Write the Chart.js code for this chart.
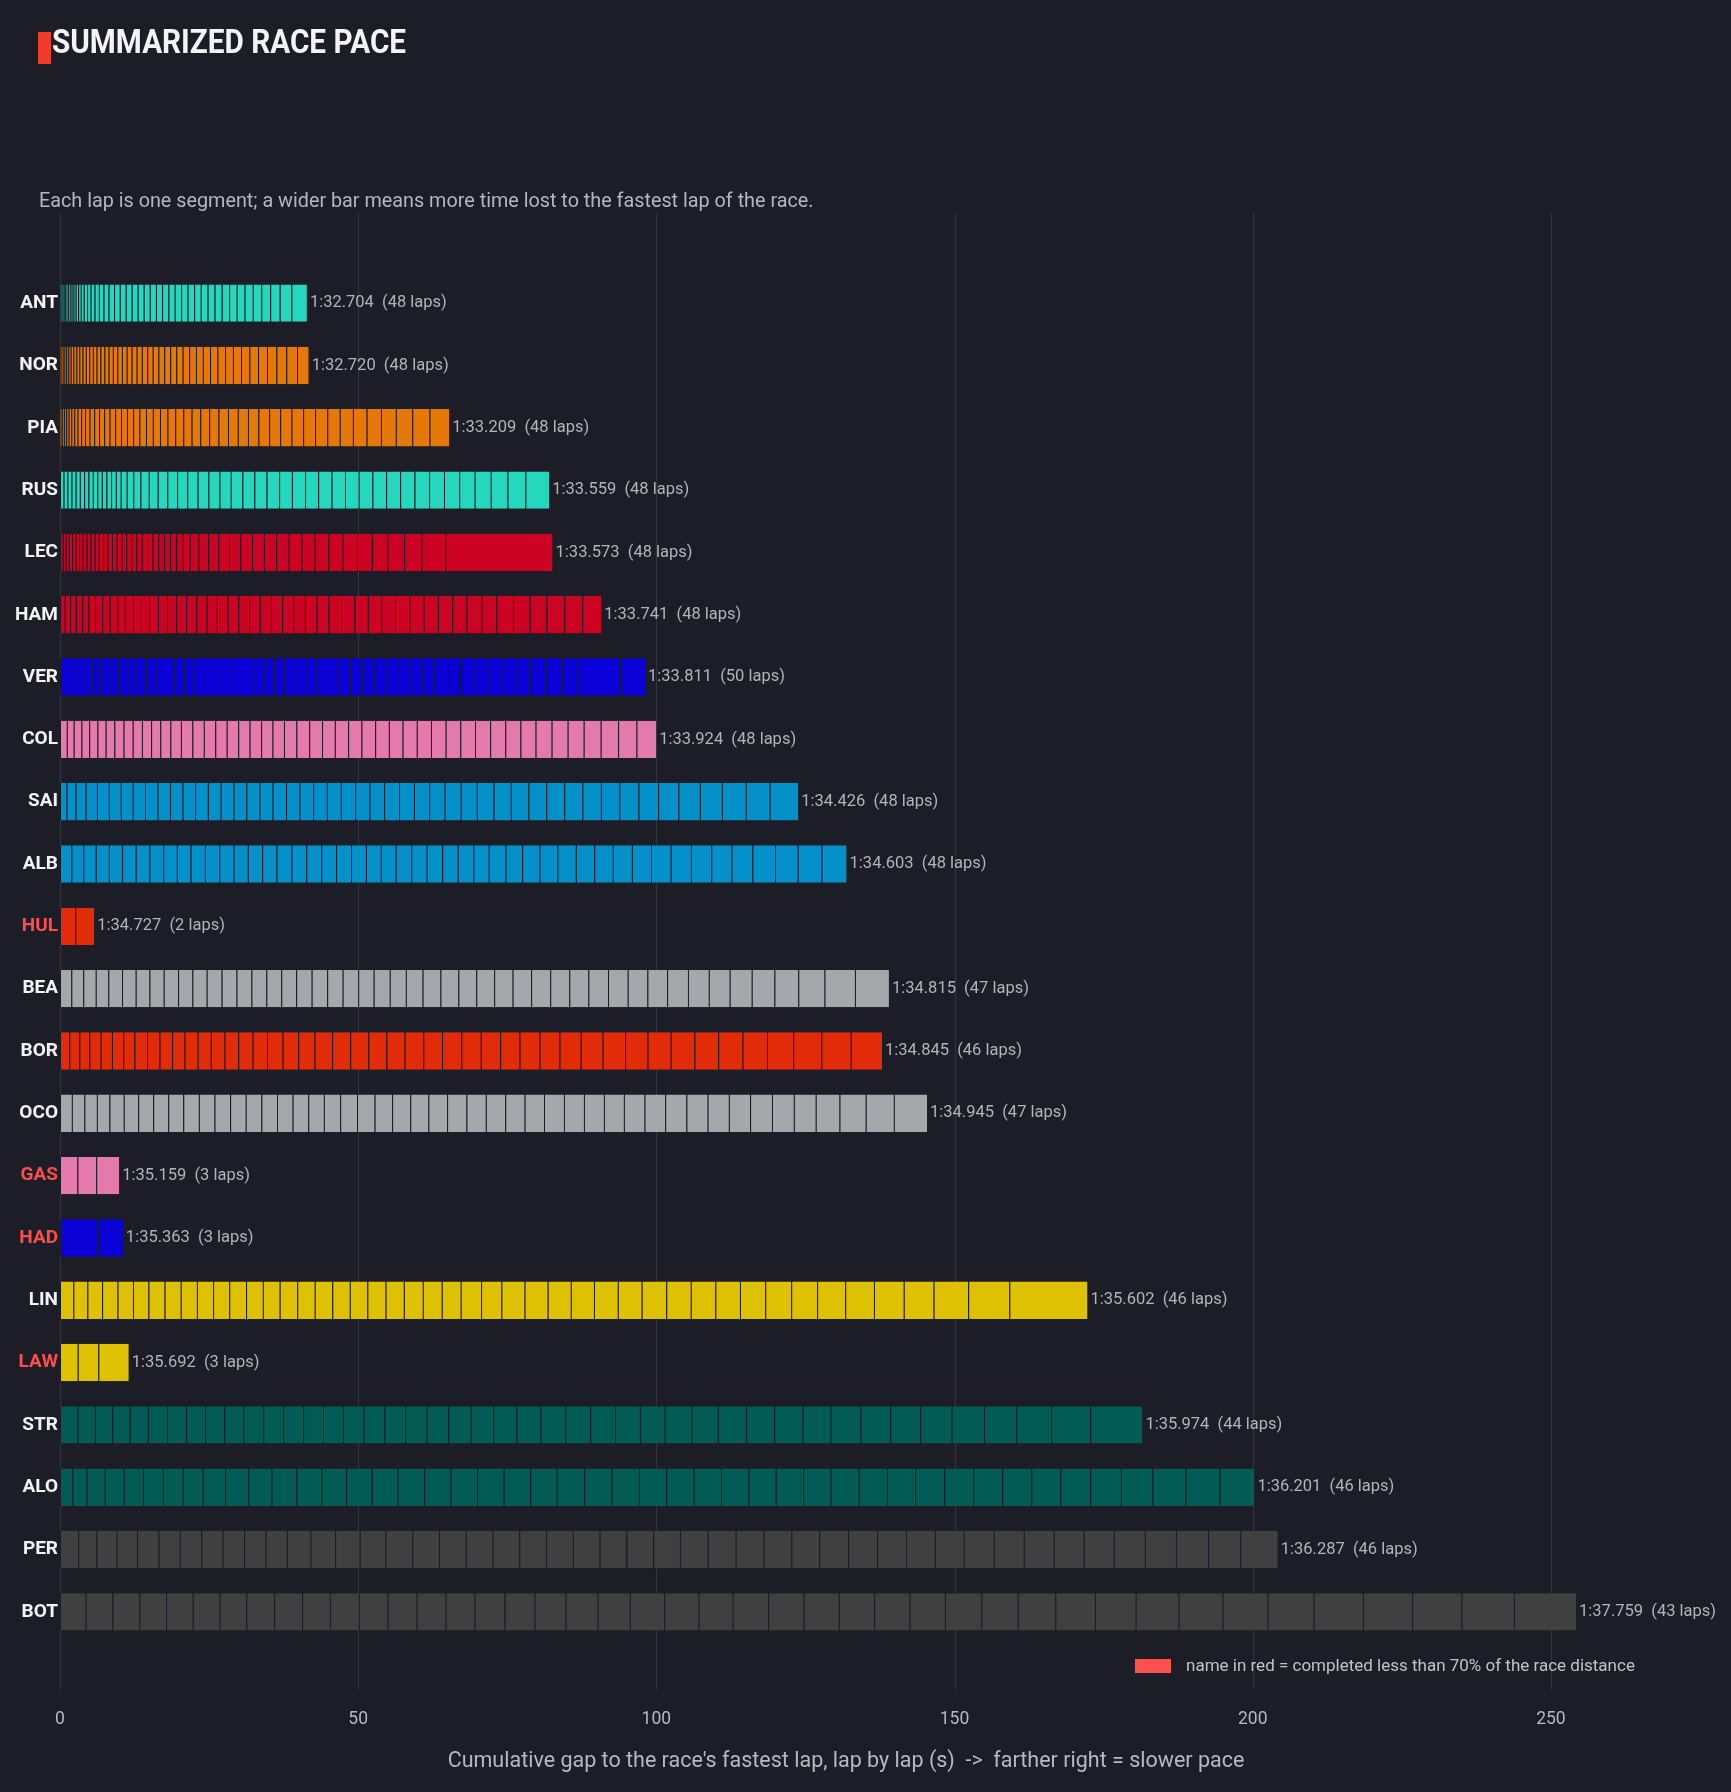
<!DOCTYPE html>
<html>
<head>
<meta charset="utf-8">
<script src="https://cdn.jsdelivr.net/npm/chart.js@4.4.0/dist/chart.umd.min.js"></script>
<style>
  html, body { margin: 0; padding: 0; background: #1d1d27; }
  #wrap { position: relative; width: 1731px; height: 1792px; overflow: hidden; }
  #chart { position: absolute; left: 0; top: 0; }
  .mark { position: absolute; left: 38px; top: 32px; width: 13px; height: 32px; background: #f23b2c; }
  #title { position: absolute; left: 52px; top: 22px; font-family: Roboto, sans-serif; font-weight: 700;
           font-size: 33px; color: #f4f4f6; transform: scaleX(0.9); transform-origin: left top; white-space: nowrap; }
  #subtitle { position: absolute; left: 39px; top: 189px; font-family: Roboto, sans-serif; font-size: 19.8px;
              color: #b6b6c0; white-space: nowrap; }
</style>
</head>
<body>
<div id="wrap">
  <canvas id="chart" width="1731" height="1792"></canvas>
  <div class="mark"></div>
  <div id="title">SUMMARIZED RACE PACE</div>
  <div id="subtitle">Each lap is one segment; a wider bar means more time lost to the fastest lap of the race.</div>
</div>
<script>
// drivers, top to bottom
const drivers = ['ANT', 'NOR', 'PIA', 'RUS', 'LEC', 'HAM', 'VER', 'COL', 'SAI', 'ALB', 'HUL',
                 'BEA', 'BOR', 'OCO', 'GAS', 'HAD', 'LIN', 'LAW', 'STR', 'ALO', 'PER', 'BOT'];
const avgLapTimes = ['1:32.704', '1:32.720', '1:33.209', '1:33.559', '1:33.573', '1:33.741', '1:33.811',
                     '1:33.924', '1:34.426', '1:34.603', '1:34.727', '1:34.815', '1:34.845', '1:34.945',
                     '1:35.159', '1:35.363', '1:35.602', '1:35.692', '1:35.974', '1:36.201', '1:36.287', '1:37.759'];
const shortDistance = ['HUL', 'GAS', 'HAD', 'LAW'];
const teamColors = ['#24d7bd', '#e67808', '#e67808', '#24d7bd', '#cc0322', '#cc0322', '#0a00d8', '#e47aac',
                    '#0490c8', '#0490c8', '#e22b08', '#a5a7ab', '#e22b08', '#a5a7ab', '#e47aac', '#0a00d8',
                    '#dfc104', '#dfc104', '#035b56', '#035b56', '#404040', '#404040'];
const xTicks = [0, 50, 100, 150, 200, 250];

// per-lap gap to the race's fastest lap (s), in the order drawn
const lapsANT = [0.1, 0.12, 0.14, 0.16, 0.18, 0.2, 0.22, 0.25, 0.28, 0.3, 0.33, 0.36, 0.4, 0.45, 0.5, 0.55,
  0.6, 0.66, 0.72, 0.78, 0.85, 0.92, 0.96, 1.0, 1.0, 1.0, 1.01, 1.02, 1.03, 1.04, 1.05, 1.06, 1.07, 1.08,
  1.1, 1.12, 1.14, 1.17, 1.2, 1.24, 1.28, 1.32, 1.37, 1.42, 1.5, 1.6, 1.95, 2.6];
const lapsNOR = [0.05, 0.1, 0.15, 0.2, 0.25, 0.3, 0.35, 0.4, 0.45, 0.5, 0.5, 0.53, 0.55, 0.58, 0.6, 0.62,
  0.65, 0.67, 0.7, 0.72, 0.75, 0.77, 0.8, 0.82, 0.85, 0.87, 0.9, 0.92, 0.95, 0.98, 1.0, 1.03, 1.06, 1.1,
  1.13, 1.16, 1.2, 1.24, 1.28, 1.32, 1.36, 1.4, 1.45, 1.5, 1.58, 1.66, 1.8, 1.95];
const lapsPIA = [0.15, 0.25, 0.3, 0.35, 0.4, 0.45, 0.5, 0.55, 0.6, 0.65, 0.75, 0.78, 0.82, 0.86, 0.9, 0.94,
  0.98, 1.0, 1.03, 1.06, 1.1, 1.15, 1.2, 1.25, 1.3, 1.35, 1.4, 1.45, 1.5, 1.55, 1.6, 1.65, 1.7, 1.75, 1.8,
  1.85, 1.9, 1.95, 2.0, 2.05, 2.1, 2.2, 2.3, 2.4, 2.5, 2.75, 2.9, 3.3];
const lapsRUS = [0.6, 0.65, 0.68, 0.7, 0.7, 0.72, 0.72, 0.74, 0.75, 0.76, 0.77, 0.78, 0.8, 0.82, 1.0, 1.1,
  1.2, 1.4, 1.5, 1.6, 1.65, 1.7, 1.75, 1.8, 1.85, 1.9, 1.95, 2.0, 2.05, 2.1, 2.15, 2.2, 2.2, 2.25, 2.25,
  2.3, 2.3, 2.3, 2.35, 2.4, 2.45, 2.5, 2.55, 2.6, 2.7, 2.8, 3.0, 4.0];
const lapsLEC = [0.45, 0.5, 0.52, 0.55, 0.58, 0.6, 0.62, 0.64, 0.66, 0.68, 0.7, 0.72, 0.74, 0.76, 0.78, 0.8,
  0.82, 0.84, 0.86, 0.88, 0.9, 0.92, 0.95, 0.98, 1.0, 1.05, 1.1, 1.15, 1.5, 1.6, 1.7, 1.8, 1.9, 1.95, 2.0,
  2.05, 2.1, 2.15, 2.2, 2.3, 2.4, 2.4, 2.5, 2.6, 2.8, 2.9, 4.0, 18.0];
const lapsHAM = [0.8, 0.9, 0.97, 1.05, 1.05, 1.1, 1.2, 1.27, 1.27, 1.27, 1.35, 1.35, 1.35, 1.5, 1.5, 1.57,
  1.65, 1.72, 1.72, 1.72, 1.8, 1.8, 1.8, 1.8, 1.87, 1.87, 1.87, 1.95, 1.95, 2.0, 2.1, 2.25, 2.25, 2.25, 2.3,
  2.4, 2.4, 2.4, 2.4, 2.4, 2.5, 2.5, 2.8, 2.8, 2.8, 3.0, 3.0, 3.2];
const lapsVER = [1.2, 1.35, 1.35, 1.43, 1.43, 1.5, 1.5, 1.55, 1.55, 1.57, 1.59, 1.59, 1.59, 1.6, 1.6, 1.6,
  1.65, 1.67, 1.67, 1.7, 1.73, 1.73, 1.73, 1.75, 1.75, 1.75, 1.75, 1.9, 1.95, 1.95, 1.97, 1.97, 1.97, 1.97,
  2.05, 2.05, 2.13, 2.13, 2.2, 2.2, 2.35, 2.35, 2.35, 2.51, 2.59, 2.75, 2.75, 3.08, 3.85, 4.2];
const lapsCOL = [1.15, 1.15, 1.3, 1.3, 1.38, 1.38, 1.46, 1.54, 1.54, 1.54, 1.54, 1.54, 1.69, 1.77, 1.92, 1.92,
  1.92, 1.92, 1.92, 1.92, 1.92, 1.92, 1.92, 2.08, 2.15, 2.15, 2.15, 2.23, 2.23, 2.3, 2.3, 2.3, 2.38, 2.38,
  2.46, 2.46, 2.46, 2.54, 2.54, 2.54, 2.54, 2.69, 2.69, 2.69, 2.85, 2.92, 3.08, 3.3];
const lapsSAI = [1.1, 1.5, 1.7, 1.9, 2.0, 2.0, 2.0, 2.05, 2.1, 2.1, 2.1, 2.1, 2.15, 2.15, 2.15, 2.15, 2.2,
  2.2, 2.25, 2.25, 2.3, 2.3, 2.35, 2.4, 2.4, 2.45, 2.5, 2.5, 2.55, 2.6, 2.7, 2.7, 2.8, 2.9, 2.95, 3.0, 3.0,
  3.05, 3.1, 3.1, 3.2, 3.3, 3.4, 3.6, 3.7, 4.0, 4.0, 4.8];
const lapsALB = [1.9, 2.0, 2.1, 2.2, 2.2, 2.3, 2.3, 2.3, 2.3, 2.3, 2.4, 2.4, 2.4, 2.4, 2.4, 2.4, 2.5, 2.5,
  2.5, 2.5, 2.5, 2.5, 2.5, 2.5, 2.6, 2.6, 2.6, 2.6, 2.6, 2.6, 2.8, 2.8, 2.9, 3.0, 3.1, 3.1, 3.1, 3.2, 3.2,
  3.3, 3.4, 3.4, 3.4, 3.5, 3.8, 3.8, 4.0, 4.2];
const lapsHUL = [2.55, 3.2];
const lapsBEA = [1.9, 2.0, 2.1, 2.1, 2.3, 2.3, 2.3, 2.4, 2.4, 2.4, 2.4, 2.5, 2.5, 2.5, 2.5, 2.5, 2.5, 2.6,
  2.6, 2.6, 2.6, 2.6, 2.7, 2.7, 2.8, 3.0, 3.0, 3.0, 3.0, 3.1, 3.1, 3.2, 3.2, 3.2, 3.3, 3.3, 3.3, 3.3, 3.5,
  3.5, 3.5, 3.7, 3.8, 4.0, 4.4, 5.1, 5.7];
const lapsBOR = [1.57, 1.68, 1.68, 1.89, 1.89, 1.89, 1.89, 2.1, 2.1, 2.1, 2.1, 2.2, 2.2, 2.3, 2.3, 2.41,
  2.41, 2.62, 2.62, 2.73, 2.94, 3.04, 3.04, 3.04, 3.04, 3.14, 3.14, 3.25, 3.25, 3.25, 3.25, 3.35, 3.35,
  3.56, 3.67, 3.77, 3.77, 3.88, 3.98, 3.98, 4.09, 4.09, 4.4, 4.72, 4.93, 5.24];
const lapsOCO = [1.99, 2.1, 2.1, 2.1, 2.41, 2.41, 2.52, 2.52, 2.52, 2.62, 2.62, 2.62, 2.62, 2.62, 2.62,
  2.62, 2.62, 2.62, 2.73, 2.83, 2.94, 2.94, 3.04, 3.04, 3.14, 3.25, 3.25, 3.25, 3.25, 3.25, 3.35, 3.35,
  3.35, 3.35, 3.46, 3.46, 3.56, 3.56, 3.56, 3.56, 3.67, 3.67, 3.67, 3.98, 4.4, 4.72, 5.56];
const lapsGAS = [2.92, 3.15, 3.86];
const lapsHAD = [3.18, 3.2, 4.16];
const lapsLIN = [2.24, 2.35, 2.47, 2.59, 2.59, 2.59, 2.71, 2.71, 2.71, 2.71, 2.71, 2.82, 2.82, 2.82, 2.94,
  2.94, 2.94, 2.94, 2.94, 3.06, 3.06, 3.18, 3.18, 3.18, 3.41, 3.41, 3.88, 3.88, 3.88, 3.88, 4.0, 4.0, 4.12,
  4.12, 4.12, 4.12, 4.24, 4.35, 4.35, 4.71, 4.82, 5.0, 5.0, 5.8, 6.9, 13.1];
const lapsLAW = [2.98, 3.45, 5.1];
const lapsSTR = [2.92, 2.92, 2.92, 2.92, 3.06, 3.2, 3.2, 3.2, 3.2, 3.2, 3.34, 3.34, 3.34, 3.34, 3.34, 3.48,
  3.48, 3.48, 3.62, 3.62, 3.76, 3.76, 3.89, 4.03, 4.17, 4.17, 4.17, 4.17, 4.17, 4.45, 4.45, 4.73, 4.73, 4.73,
  4.73, 5.0, 5.0, 5.0, 5.29, 5.42, 5.42, 5.84, 6.54, 8.76];
const lapsALO = [2.09, 2.36, 3.06, 3.2, 3.2, 3.34, 3.34, 3.34, 3.76, 3.89, 3.89, 4.17, 4.17, 4.17, 4.31,
  4.31, 4.45, 4.45, 4.45, 4.45, 4.45, 4.45, 4.59, 4.59, 4.59, 4.59, 4.59, 4.59, 4.59, 4.59, 4.59, 4.59,
  4.73, 4.73, 4.73, 4.87, 4.87, 4.87, 4.87, 4.87, 5.0, 5.15, 5.29, 5.56, 5.7, 5.84];
const lapsPER = [3.05, 3.05, 3.41, 3.41, 3.59, 3.59, 3.59, 3.59, 3.59, 3.59, 3.59, 3.95, 4.13, 4.13, 4.31,
  4.49, 4.49, 4.49, 4.49, 4.49, 4.49, 4.49, 4.49, 4.49, 4.49, 4.49, 4.67, 4.67, 4.67, 4.67, 4.67, 4.85,
  4.85, 4.85, 4.85, 4.85, 5.03, 5.03, 5.03, 5.03, 5.03, 5.21, 5.21, 5.39, 5.39, 6.29];
const lapsBOT = [4.31, 4.49, 4.49, 4.49, 4.49, 4.49, 4.49, 4.67, 4.67, 4.67, 4.85, 4.85, 4.85, 4.85, 4.85,
  5.03, 5.03, 5.21, 5.39, 5.39, 5.75, 5.75, 5.75, 5.93, 5.93, 5.93, 5.93, 5.93, 5.93, 6.11, 6.11, 6.29,
  6.65, 6.83, 7.19, 7.37, 7.55, 7.73, 8.26, 8.26, 8.26, 8.8, 10.42];

const lapGaps = [lapsANT, lapsNOR, lapsPIA, lapsRUS, lapsLEC, lapsHAM, lapsVER, lapsCOL, lapsSAI, lapsALB,
  lapsHUL, lapsBEA, lapsBOR, lapsOCO, lapsGAS, lapsHAD, lapsLIN, lapsLAW, lapsSTR, lapsALO, lapsPER, lapsBOT];

const FONT = 'Roboto, "Noto Sans", sans-serif';
const BG = '#1d1d27';
Chart.defaults.font.family = FONT;

const maxLaps = Math.max(...lapGaps.map(l => l.length));
const datasets = [];
for (let i = 0; i < maxLaps; i++) {
    datasets.push({
        label: 'Lap ' + (i + 1),
        data: lapGaps.map(l => (i < l.length ? l[i] : null)),
        backgroundColor: teamColors,
        borderColor: BG,
        borderWidth: { left: 1, right: 0, top: 0, bottom: 0 },
        borderSkipped: false,
        barPercentage: 0.6,
        categoryPercentage: 1.0
    });
}

// vertical grid lines reach past the bars, like the original
const gridPlugin = {
    id: 'fullGrid',
    beforeDatasetsDraw(chart) {
        const { ctx, scales: { x, y } } = chart;
        const top = y.getPixelForValue(-1.45);
        const bottom = y.getPixelForValue(22.25);
        ctx.save();
        ctx.strokeStyle = '#33333e';
        ctx.lineWidth = 1.2;
        xTicks.forEach(v => {
            const px = Math.round(x.getPixelForValue(v)) + 0.5;
            ctx.beginPath();
            ctx.moveTo(px, top);
            ctx.lineTo(px, bottom);
            ctx.stroke();
        });
        ctx.restore();
    }
};

// "1:32.704  (48 laps)" at the end of each bar, plus the note in the corner
const labelPlugin = {
    id: 'barEnds',
    afterDatasetsDraw(chart) {
        const { ctx, scales: { x, y } } = chart;
        ctx.save();
        ctx.font = '16.5px ' + FONT;
        ctx.fillStyle = '#b3b3bc';
        ctx.textBaseline = 'middle';
        ctx.textAlign = 'left';
        lapGaps.forEach((laps, i) => {
            const total = laps.reduce((a, b) => a + b, 0);
            const px = x.getPixelForValue(total) + 3;
            const py = y.getPixelForValue(i);
            ctx.fillText(avgLapTimes[i] + '  (' + laps.length + ' laps)', px, py);
        });

        ctx.fillStyle = '#ff5050';
        ctx.fillRect(1135, 1659, 36, 14);
        ctx.font = '17px ' + FONT;
        ctx.fillStyle = '#c2c2ca';
        ctx.fillText('name in red = completed less than 70% of the race distance', 1186, 1667);
        ctx.restore();
    }
};

new Chart(document.getElementById('chart'), {
    type: 'bar',
    data: { labels: drivers, datasets: datasets },
    options: {
        indexAxis: 'y',
        responsive: false,
        devicePixelRatio: 1,
        animation: false,
        layout: { padding: { top: 272, right: 99, left: 0, bottom: 0 } },
        plugins: {
            legend: { display: false },
            tooltip: { enabled: false }
        },
        scales: {
            x: {
                type: 'linear',
                stacked: true,
                min: 0,
                max: 263.6,
                grid: { display: false, drawTicks: false },
                border: { display: false },
                ticks: {
                    stepSize: 50,
                    includeBounds: false,
                    color: '#b8b8c2',
                    font: { size: 17.5 },
                    padding: 66
                },
                title: {
                    display: true,
                    text: "Cumulative gap to the race's fastest lap, lap by lap (s)  ->  farther right = slower pace",
                    color: '#b8b8c2',
                    font: { size: 21.5 },
                    padding: { top: 0, bottom: 17 }
                },
                afterFit: s => {
                    s.height = 149;
                    s.paddingLeft = 0;
                    s.paddingRight = 0;
                }
            },
            y: {
                stacked: true,
                grid: { display: false, drawTicks: false },
                border: { display: false },
                ticks: {
                    color: c => (shortDistance.includes(drivers[c.index]) ? '#ff4d4d' : '#f4f4f6'),
                    font: { size: 19, weight: 'bold' },
                    padding: 2
                },
                afterFit: s => { s.width = 60; }
            }
        }
    },
    plugins: [gridPlugin, labelPlugin]
});
</script>
</body>
</html>
